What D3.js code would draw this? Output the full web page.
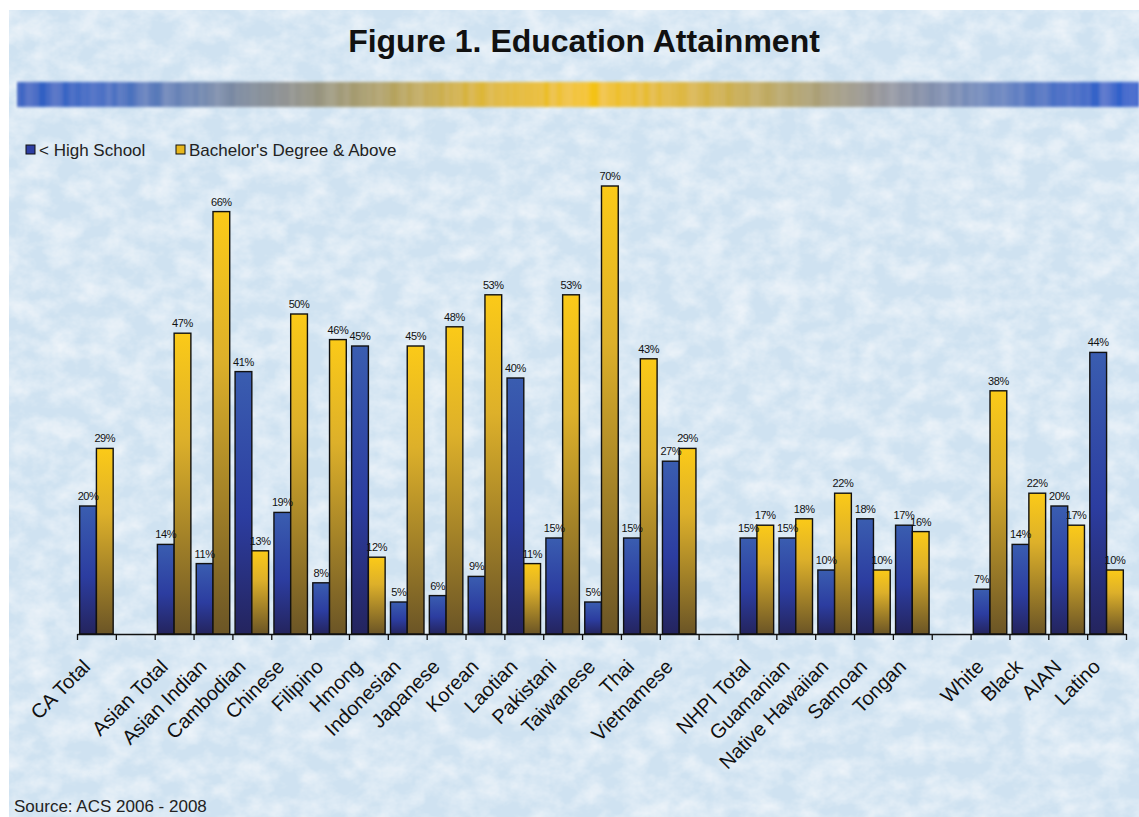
<!DOCTYPE html>
<html>
<head>
<meta charset="utf-8">
<script src="https://cdn.jsdelivr.net/npm/d3@7"></script>
<style>
  html, body { margin: 0; padding: 0; background: #fff; }
  svg { display: block; }
</style>
</head>
<body>
<svg id="chart" width="1139" height="817"></svg>
<script>
// Group labels; empty strings are spacer slots between groups
const categories = [
  "CA Total", "",
  "Asian Total", "Asian Indian", "Cambodian", "Chinese", "Filipino", "Hmong",
  "Indonesian", "Japanese", "Korean", "Laotian", "Pakistani", "Taiwanese",
  "Thai", "Vietnamese", "",
  "NHPI Total", "Guamanian", "Native Hawaiian", "Samoan", "Tongan", "",
  "White", "Black", "AIAN", "Latino"
];
// Percent with less than a high school education
const lessHighSchool = [
  20, null,
  14, 11, 41, 19, 8, 45, 5, 6, 9, 40, 15, 5, 15, 27, null,
  15, 15, 10, 18, 17, null,
  7, 14, 20, 44
];
// Percent with a bachelor's degree or higher
const bachelorsPlus = [
  29, null,
  47, 66, 13, 50, 46, 12, 45, 48, 53, 11, 53, 70, 43, 29, null,
  17, 18, 22, 10, 16, null,
  38, 22, 17, 10
];
const seriesNames = ["< High School", "Bachelor's Degree & Above"];

const FONT = "Liberation Sans, Arial, sans-serif";
const svg = d3.select("#chart");
const W = 1139, H = 817;
const defs = svg.append("defs");

// Mottled light-blue paper backdrop
const tex = defs.append("filter").attr("id", "paper")
  .attr("x", 0).attr("y", 0).attr("width", "100%").attr("height", "100%");
tex.append("feTurbulence").attr("type", "fractalNoise")
  .attr("baseFrequency", "0.04 0.05").attr("numOctaves", 4).attr("seed", 11).attr("result", "noise");
tex.append("feColorMatrix").attr("in", "noise").attr("type", "matrix")
  .attr("values", "0 0 0 0 1  0 0 0 0 1  0 0 0 0 1  1.0 0 0 0 -0.33").attr("result", "white");
tex.append("feComposite").attr("in", "white").attr("in2", "SourceGraphic").attr("operator", "over");

svg.append("rect").attr("x", 9).attr("y", 10).attr("width", W - 9).attr("height", H - 10)
  .attr("fill", "#cfe2f1").attr("filter", "url(#paper)");

// Title
svg.append("text")
  .attr("x", 584).attr("y", 52)
  .attr("text-anchor", "middle")
  .attr("font-family", FONT)
  .attr("font-weight", "bold")
  .attr("font-size", 32)
  .attr("fill", "#111")
  .text("Figure 1. Education Attainment");

// Decorative blue–gold–blue band under the title
const band = defs.append("linearGradient").attr("id", "bandGrad")
  .attr("x1", 0).attr("x2", 1).attr("y1", 0).attr("y2", 1e-6);
[
  [0, "#2d5ec2"], [0.07, "#3766c4"], [0.16, "#6f87b2"], [0.24, "#8a8d8c"],
  [0.32, "#ad9f66"], [0.41, "#dbb536"], [0.51, "#f5c313"], [0.6, "#dbb53a"],
  [0.69, "#b4a468"], [0.77, "#94959c"], [0.86, "#6f89bd"], [0.93, "#3a67c4"], [1, "#2c5fcc"]
].forEach(([o, c]) => band.append("stop").attr("offset", o).attr("stop-color", c));
const soft = defs.append("filter").attr("id", "soft")
  .attr("x", "-2%").attr("y", "-50%").attr("width", "104%").attr("height", "200%");
soft.append("feTurbulence").attr("type", "fractalNoise")
  .attr("baseFrequency", "0.08 0.0001").attr("numOctaves", 2).attr("seed", 3).attr("result", "stripes");
soft.append("feColorMatrix").attr("in", "stripes").attr("type", "matrix")
  .attr("values", "0 0 0 0 1  0 0 0 0 1  0 0 0 0 1  0.22 0 0 0 -0.07").attr("result", "stripeWhite");
soft.append("feComposite").attr("in", "stripeWhite").attr("in2", "SourceGraphic").attr("operator", "atop").attr("result", "striped");
soft.append("feGaussianBlur").attr("in", "striped").attr("stdDeviation", "1.2 1.6");
svg.append("rect").attr("x", 17).attr("y", 82).attr("width", W - 17).attr("height", 25)
  .attr("fill", "url(#bandGrad)").attr("filter", "url(#soft)");

// Bar fills: vertical gradients, bright top to dark bottom
const blueGrad = defs.append("linearGradient").attr("id", "blueGrad")
  .attr("x1", 0).attr("x2", 0).attr("y1", 0).attr("y2", 1);
[[0, "#3a5db0"], [0.55, "#2c3da0"], [1, "#24245e"]]
  .forEach(([o, c]) => blueGrad.append("stop").attr("offset", o).attr("stop-color", c));
const goldGrad = defs.append("linearGradient").attr("id", "goldGrad")
  .attr("x1", 0).attr("x2", 0).attr("y1", 0).attr("y2", 1);
[[0, "#fbca18"], [0.35, "#ddb02a"], [1, "#6b5526"]]
  .forEach(([o, c]) => goldGrad.append("stop").attr("offset", o).attr("stop-color", c));
const fills = ["url(#blueGrad)", "url(#goldGrad)"];

// Legend
const legend = svg.append("g").attr("font-family", FONT)
  .attr("font-size", 17).attr("fill", "#222");
const legendX = [26, 176];
seriesNames.forEach((name, i) => {
  legend.append("rect").attr("x", legendX[i]).attr("y", 145).attr("width", 9).attr("height", 9)
    .attr("fill", i === 0 ? "#2d3ea3" : "#e8b81e").attr("stroke", "#111").attr("stroke-width", 1);
  legend.append("text").attr("x", legendX[i] + 13).attr("y", 156).text(name);
});

// Scales
const plotLeft = 77, plotRight = 1126, baseY = 634;
const x = d3.scaleBand().domain(d3.range(categories.length)).range([plotLeft, plotRight]).padding(0);
const xSub = d3.scaleBand().domain([0, 1]).range([0, x.bandwidth()]).paddingInner(0).paddingOuter(0.16);
const y = d3.scaleLinear().domain([0, 70]).range([baseY, baseY - 448]);

const rows = categories.map((c, i) => ({ i, values: [lessHighSchool[i], bachelorsPlus[i]] }));

const groups = svg.append("g").selectAll("g").data(rows).join("g")
  .attr("transform", d => `translate(${x(d.i)},0)`);

groups.selectAll("rect")
  .data(d => d.values.map((v, k) => ({ k, v })).filter(e => e.v != null))
  .join("rect")
  .attr("x", e => xSub(e.k))
  .attr("y", e => y(e.v))
  .attr("width", xSub.bandwidth())
  .attr("height", e => baseY - y(e.v))
  .attr("fill", e => fills[e.k])
  .attr("stroke", "#111")
  .attr("stroke-width", 1.4);

groups.selectAll("text")
  .data(d => d.values.map((v, k) => ({ k, v })).filter(e => e.v != null))
  .join("text")
  .attr("x", e => xSub(e.k) + xSub.bandwidth() / 2)
  .attr("y", e => y(e.v) - 6)
  .attr("text-anchor", "middle")
  .attr("font-family", FONT)
  .attr("font-size", 11)
  .attr("letter-spacing", -0.4)
  .attr("fill", "#111")
  .text(e => e.v + "%");

// Axis line with ticks on slot boundaries
const edges = d3.scaleLinear().domain([0, categories.length]).range([plotLeft, plotRight]);
const axisG = svg.append("g").attr("transform", `translate(0,${baseY})`)
  .call(d3.axisBottom(edges).tickValues(d3.range(categories.length + 1))
    .tickFormat("").tickSize(6).tickSizeOuter(0));
axisG.select(".domain").attr("stroke", "#111").attr("stroke-width", 1.5);
axisG.selectAll(".tick line").attr("stroke", "#111").attr("stroke-width", 1.3);

// Rotated category labels
const labelG = svg.append("g").attr("transform", `translate(0,${baseY})`)
  .call(d3.axisBottom(x).tickSize(0).tickFormat(i => categories[i]));
labelG.select(".domain").remove();
labelG.selectAll(".tick text")
  .attr("font-family", FONT)
  .attr("font-size", 20)
  .attr("fill", "#111")
  .attr("text-anchor", "end")
  .attr("dy", null)
  .attr("y", 0)
  .attr("transform", "translate(-5,34) rotate(-45)");

// Source note
svg.append("text").attr("x", 14).attr("y", 812)
  .attr("font-family", FONT)
  .attr("font-size", 17).attr("fill", "#222")
  .text("Source: ACS 2006 - 2008");
</script>
</body>
</html>
